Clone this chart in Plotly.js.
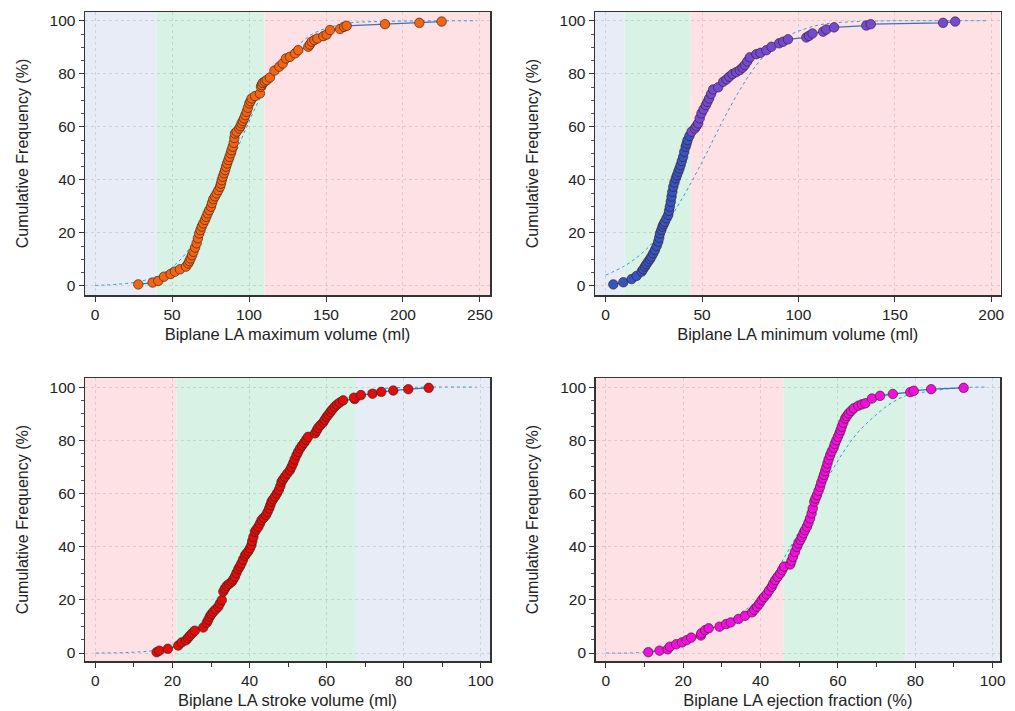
<!DOCTYPE html>
<html>
<head>
<meta charset="utf-8">
<script src="https://cdn.plot.ly/plotly-3.0.1.min.js"></script>
<style>
html,body{margin:0;padding:0;background:#fff;}
#chart{width:1015px;height:711px;}
</style>
</head>
<body>
<div id="chart"></div>
<script>
// ---------- Panel 1: Biplane LA maximum volume (ml) ----------
const maxVolX = [28.1,37.4,41.1,44.8,49.1,51.9,55.2,59.1,60.6,62.1,63.9,66.0,67.7,69.3,71.4,73.2,75.3,76.8,79.0,81.2,82.3,83.8,85.1,86.6,88.1,89.4,90.9,92.0,93.7,95.2,96.8,98.5,100.2,101.7,103.9,107.1,107.8,108.9,111.5,113.6,116.5,119.7,121.9,124.0,126.6,129.9,132.0,138.5,140.7,144.4,148.3,150.4,152.6,159.1,161.7,163.4,188.3,210.6,225.1];
const maxVolY = [0.6,1.3,1.9,3.5,4.5,5.4,6.3,7.3,8.5,10.4,12.9,16.1,19.8,22.4,24.9,27.4,29.9,32.7,34.9,37.4,39.9,42.5,45.0,47.5,50.0,52.5,57.5,58.2,59.4,61.3,63.2,65.7,68.8,70.7,71.6,72.6,75.1,76.6,77.6,78.6,81.2,82.7,83.9,85.8,86.4,87.7,88.9,90.2,92.1,93.3,94.2,94.8,96.5,96.9,97.7,98.1,98.7,99.2,99.7];
const maxVolX2 = [61.3,63.0,65.0,66.8,68.5,70.3,72.3,74.2,76.0,77.9,80.1,81.8,83.0,84.5,85.8,87.3,88.7,90.1,90.5,94.5,96.0,97.6,99.3,101.0,108.3,110.2,139.5,142.5];
const maxVolY2 = [9.4,11.6,14.5,18.0,21.1,23.6,26.1,28.6,31.3,33.8,36.1,38.6,41.2,43.7,46.2,48.7,51.2,54.0,55.8,60.3,62.2,64.4,67.2,69.7,75.8,77.1,91.0,92.7];
const maxVolFitX = [0,28.1,44.4,55.2,66.0,76.8,87.7,98.5,109.3,120.1,131.0,141.8,163.4,185.0,247.8];
const maxVolFitY = [0.2,1.6,4.8,9.8,18.0,30.0,45.0,60.0,73.2,83.3,90.2,95.2,99.0,99.7,100];
const maxVolBands = [40,110];

// ---------- Panel 2: Biplane LA minimum volume (ml) ----------
const minVolX = [4.0,9.2,13.5,16.1,18.7,20.4,22.1,23.8,25.6,27.3,28.2,29.5,30.7,32.5,33.3,34.2,35.1,36.4,37.7,38.9,40.2,41.5,42.5,44.6,46.3,48.0,49.7,52.0,53.7,55.8,58.4,61.0,62.7,65.8,69.6,72.2,74.8,78.2,80.3,83.4,86.0,90.0,92.1,94.6,104.1,107.3,112.8,114.5,118.5,135.2,137.5,175.0,181.3];
const minVolY = [0.6,1.4,2.6,3.8,5.4,7.3,9.2,11.1,13.6,16.7,19.8,22.4,24.2,26.8,29.9,33.7,37.4,40.6,43.1,45.6,48.7,52.5,55.0,58.2,59.4,61.3,65.1,68.2,70.7,74.1,74.9,77.0,77.9,79.9,81.4,83.3,86.2,87.4,87.9,88.9,90.2,91.5,92.1,93.0,93.7,95.2,95.9,96.7,97.5,98.2,98.7,99.2,99.7];
const minVolX2 = [19.5,21.2,23.0,24.7,26.5,27.8,28.9,30.1,31.6,32.9,33.8,34.6,35.7,37.0,38.3,39.5,40.8,42.0,43.5,47.1,48.8,50.8,52.8,54.7,64.2,67.7,71.0,73.5,105.5];
const minVolY2 = [6.3,8.2,10.1,12.3,15.1,18.2,21.1,23.3,25.5,28.3,31.8,35.5,39.0,41.8,44.3,47.1,50.6,53.7,56.6,60.3,63.2,66.6,69.4,72.4,78.9,80.6,82.3,84.7,94.3];
const minVolFitX = [0,9.2,17.8,26.4,35.1,43.7,52.3,61.0,69.6,78.2,86.9,95.5,104.1,112.8,130.0,198.3];
const minVolFitY = [4.1,7.3,11.7,18.0,27.4,38.1,50.0,62.6,73.9,83.3,90.2,94.6,97.1,98.7,99.7,100];
const minVolBands = [10,44];

// ---------- Panel 3: Biplane LA stroke volume (ml) ----------
const strokeX = [15.9,16.6,18.8,21.5,22.4,23.5,24.5,25.8,28.0,28.9,29.7,30.6,31.9,32.8,33.2,34.1,35.4,36.2,37.1,37.9,38.8,39.7,40.5,41.0,41.4,42.3,43.1,44.3,45.1,45.7,46.6,47.6,48.3,49.2,50.5,51.3,52.2,53.1,54.2,55.2,57.0,57.8,59.1,60.0,61.0,62.1,63.4,64.3,67.1,68.9,71.9,74.2,77.3,81.2,86.5];
const strokeY = [0.3,0.9,1.6,2.8,4.0,4.8,6.5,8.4,9.6,11.4,13.7,15.5,17.4,19.9,23.1,25.3,26.8,28.7,31.6,33.7,36.6,38.3,40.6,43.7,45.6,47.5,50.0,51.9,54.4,56.9,58.8,61.3,64.4,66.3,68.8,71.3,74.4,76.9,79.1,81.3,82.6,84.7,86.7,88.8,90.7,92.6,94.2,95.0,96.0,97.0,97.5,98.2,98.7,99.2,99.7];
const strokeX2 = [24.0,25.1,29.3,30.1,31.2,32.3,33.6,34.7,35.8,36.6,37.5,38.3,39.2,40.1,40.7,41.8,42.7,43.7,44.7,45.4,46.1,47.1,48.0,48.7,49.8,50.9,51.7,52.6,53.6,54.7,57.4,58.4,59.5,60.5,61.5,62.7,67.3];
const strokeY2 = [5.6,7.4,12.5,14.6,16.4,18.6,24.2,26.0,27.7,30.1,32.6,35.1,37.4,39.4,42.1,46.5,48.7,50.9,53.1,55.6,57.8,60.0,62.8,65.3,67.5,70.0,72.8,75.6,78.0,80.2,83.6,85.7,87.7,89.7,91.6,93.4,95.5];
const strokeFitX = [0,9.0,15.9,22.0,30.6,39.2,43.6,47.9,56.5,65.2,73.8,82.5,98.9];
const strokeFitY = [0,0.25,1.1,3.6,14.9,36.2,49.4,61.9,83.2,95.7,99.2,99.9,100];
const strokeBands = [21,67.6];

// ---------- Panel 4: Biplane LA ejection fraction (%) ----------
const efX = [11.0,13.9,16.0,16.6,18.2,19.7,20.9,22.1,24.7,25.7,26.6,29.4,31.1,32.3,34.3,36.0,37.8,39.1,40.3,41.6,42.9,43.8,45.1,46.1,47.7,48.4,49.4,50.3,51.1,52.0,52.8,53.5,53.9,54.6,55.4,56.1,56.7,57.3,58.0,58.9,59.6,60.4,61.0,61.9,62.8,64.1,65.3,67.1,68.8,70.9,74.2,78.7,79.6,84.1,92.5];
const efY = [0.3,0.9,1.4,2.4,3.3,4.0,4.8,5.8,7.4,8.6,9.3,9.9,10.9,11.5,12.8,14.0,15.3,17.4,19.9,22.1,24.9,27.4,29.9,32.5,33.3,36.2,39.9,42.5,45.0,47.5,50.6,54.4,56.9,59.4,62.5,65.7,68.4,71.3,74.4,77.2,80.0,82.6,85.1,88.2,90.1,92.0,93.0,93.9,95.7,96.7,97.4,98.1,98.6,99.2,99.7];
const efX2 = [24.6,38.4,39.7,40.9,42.2,43.3,44.4,45.6,48.0,48.9,49.8,50.7,51.5,52.4,53.2,54.2,55.0,55.7,56.4,57.0,57.6,58.4,59.2,60.0,60.7,61.4,62.3,63.4,66.2];
const efY2 = [6.6,16.3,18.6,21.0,23.5,26.1,28.6,31.2,34.7,38.0,41.2,43.7,46.2,49.0,52.5,58.1,61.0,64.1,67.0,69.8,72.8,75.8,78.6,81.3,83.8,86.6,89.1,91.0,93.5];
const efFitX = [0,8.9,17.5,26.1,34.7,39.1,43.4,47.7,52.0,56.3,60.6,64.9,69.2,73.5,77.8,82.2,90.8,98.5];
const efFitY = [0,0.25,2.4,7.4,14.9,19.8,29.3,39.8,51.1,63.0,73.7,82.5,88.7,93.7,96.9,98.1,99.7,100];
const efBands = [46,77.5];

const yTicks = [0,20,40,60,80,100];
const yTitle = 'Cumulative Frequency (%)';
const xTitles = ['Biplane LA maximum volume (ml)','Biplane LA minimum volume (ml)','Biplane LA stroke volume (ml)','Biplane LA ejection fraction (%)'];

const BLUE_BG = '#e8ecf7', GREEN_BG = '#d8f2e6', PINK_BG = '#fde1e4';
const LINE_C = '#3a74bf', FIT_C = '#3d98d3';
const FONT = 'Liberation Sans, Arial, sans-serif';

function merge(xa, ya, xb, yb){
  const pts = xa.map((v,i)=>[v,ya[i]]).concat(xb.map((v,i)=>[v,yb[i]]));
  pts.sort((a,b)=>a[1]-b[1]);
  return {x:pts.map(p=>p[0]), y:pts.map(p=>p[1])};
}

const panels = [
  {d:merge(maxVolX,maxVolY,maxVolX2,maxVolY2), fx:maxVolFitX, fy:maxVolFitY, bands:maxVolBands, colors:[BLUE_BG,GREEN_BG,PINK_BG],
   color:'#f26512', xr:[-6.5,256.5], xd:[85/1015,490/1015], yd:[1-295/711,1-12/711], yr:[-3.4,103.3], dtick:50, minor:null},
  {d:merge(minVolX,minVolY,minVolX2,minVolY2), fx:minVolFitX, fy:minVolFitY, bands:minVolBands, colors:[BLUE_BG,GREEN_BG,PINK_BG],
   color:null, xr:[-5.5,204.8], xd:[595/1015,1000.5/1015], yd:[1-295/711,1-12/711], yr:[-3.4,103.3], dtick:50, minor:null},
  {d:merge(strokeX,strokeY,strokeX2,strokeY2), fx:strokeFitX, fy:strokeFitY, bands:strokeBands, colors:[PINK_BG,GREEN_BG,BLUE_BG],
   color:'#e00d0d', xr:[-2.7,102.4], xd:[85/1015,490/1015], yd:[1-661/711,1-378.3/711], yr:[-3.0,103.3], dtick:20, minor:10},
  {d:merge(efX,efY,efX2,efY2), fx:efFitX, fy:efFitY, bands:efBands, colors:[PINK_BG,GREEN_BG,BLUE_BG],
   color:'#f20ee0', xr:[-2.6,101.9], xd:[595.7/1015,1000/1015], yd:[1-661/711,1-378.3/711], yr:[-3.0,103.3], dtick:20, minor:10}
];

const data = [];
const layout = {
  width:1015, height:711,
  margin:{l:0,r:0,t:0,b:0},
  paper_bgcolor:'#ffffff',
  plot_bgcolor:'rgba(0,0,0,0)',
  showlegend:false,
  font:{family:FONT, size:15, color:'#222'},
  shapes:[]
};

panels.forEach((p,i)=>{
  const n = i+1;
  const xa = 'x'+(n===1?'':n), ya = 'y'+(n===1?'':n);
  const xk = 'xaxis'+(n===1?'':n), yk = 'yaxis'+(n===1?'':n);
  const edges = [p.xr[0], p.bands[0], p.bands[1], p.xr[1]];
  for(let k=0;k<3;k++){
    layout.shapes.push({type:'rect', xref:xa, yref:ya+' domain', x0:edges[k], x1:edges[k+1], y0:0, y1:1,
      fillcolor:p.colors[k], line:{width:0}, layer:'below'});
  }
  data.push({x:p.fx, y:p.fy, xaxis:xa, yaxis:ya, mode:'lines', type:'scatter',
    line:{color:FIT_C, width:1, dash:'dot', shape:'spline'}, hoverinfo:'skip'});
  data.push({x:p.d.x, y:p.d.y, xaxis:xa, yaxis:ya, mode:'lines', type:'scatter',
    line:{color:LINE_C, width:1.3}, hoverinfo:'skip'});
  let mcolor = p.color;
  if(mcolor===null){
    mcolor = p.d.x.map(v => v < p.bands[1] ? '#3454c4' : '#7449d6');
  }
  data.push({x:p.d.x, y:p.d.y, xaxis:xa, yaxis:ya, mode:'markers', type:'scatter',
    marker:{color:mcolor, size:9.5, line:{color:'rgba(60,30,20,0.8)', width:0.8}}});

  layout[xk] = {domain:p.xd, range:p.xr, anchor:ya, dtick:p.dtick, tick0:0,
    showline:true, mirror:true, linecolor:'#333', linewidth:1.5,
    ticks:'outside', ticklen:5, tickcolor:'#333', tickwidth:1,
    showgrid:true, gridcolor:'rgba(120,120,120,0.22)', griddash:'dot', gridwidth:1,
    zeroline:false, tickfont:{size:15.5, color:'#222', family:FONT},
    title:{text:xTitles[i], font:{size:16.5, color:'#222', family:FONT}, standoff:6}};
  if(p.minor){
    layout[xk].minor = {dtick:p.minor, ticks:'outside', ticklen:4, tickcolor:'#333', showgrid:false};
  }
  layout[yk] = {domain:p.yd, range:p.yr, anchor:xa, tickvals:yTicks,
    showline:true, mirror:true, linecolor:'#333', linewidth:1.5,
    ticks:'outside', ticklen:5, tickcolor:'#333', tickwidth:1,
    minor:{dtick:5, tick0:0, ticks:'outside', ticklen:3, tickcolor:'#555', showgrid:false},
    showgrid:true, gridcolor:'rgba(120,120,120,0.22)', griddash:'dot', gridwidth:1,
    zeroline:false, tickfont:{size:15.5, color:'#222', family:FONT},
    title:{text:yTitle, font:{size:16, color:'#222', family:FONT}, standoff:17}};
});

Plotly.newPlot('chart', data, layout, {staticPlot:true, displayModeBar:false});
</script>
</body>
</html>
